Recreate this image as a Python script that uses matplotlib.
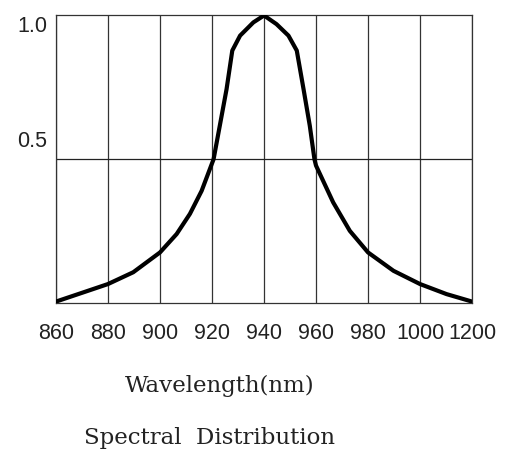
import numpy as np
import matplotlib
matplotlib.use("Agg")
import matplotlib.pyplot as plt

# axis ticks (evenly spaced on the chart, even though 1000 -> 1200 jumps)
wl_ticks = [860, 880, 900, 920, 940, 960, 980, 1000, 1200]
tick_labels = ["860", "880", "900", "920", "940", "960", "980", "1000", "1200"]

# curve: wavelength (nm) and relative intensity
wavelength = [860, 870.5, 880, 889.7, 900, 906.4, 911.5, 916, 920.6, 923, 925.6, 927.8,
              930.8, 935.9, 940, 944.8, 949.4, 952.6, 955.2, 957.6, 959.4, 960, 966.6,
              973, 980, 989.8, 1000, 1102, 1200]
intensity = [0.005, 0.037, 0.066, 0.107, 0.176, 0.24, 0.31, 0.39, 0.5, 0.617, 0.744, 0.878,
             0.93, 0.976, 1.0, 0.97, 0.93, 0.878, 0.744, 0.617, 0.5, 0.478, 0.35,
             0.251, 0.176, 0.112, 0.066, 0.031, 0.005]

# map wavelength onto the evenly spaced tick positions
pos_ticks = np.arange(len(wl_ticks))
x = np.interp(wavelength, wl_ticks, pos_ticks)

fig = plt.figure(figsize=(5.12, 4.52), dpi=100)
ax = fig.add_axes([0.1094, 0.3274, 0.8125, 0.6361])

# grid
for p in pos_ticks:
    ax.axvline(p, color="#333333", lw=0.9, zorder=1)
ax.axhline(0.5, color="#222222", lw=0.9, zorder=1)

ax.plot(x, intensity, color="black", lw=3.0, solid_joinstyle="round",
        solid_capstyle="round", zorder=3)

ax.set_xlim(0, len(wl_ticks) - 1)
ax.set_ylim(0, 1)
for s in ax.spines.values():
    s.set_color("#333333")
    s.set_linewidth(0.9)

ax.set_xticks(pos_ticks)
ax.set_xticklabels(tick_labels, fontsize=15.5, family="Liberation Sans", color="#222222")
ax.tick_params(axis="x", length=0, pad=14)
ax.set_yticks([])

# y labels: 1.0 near the top line, 0.5 sitting above its line
ax.text(-0.17, 1.0, "1.0", ha="right", va="top", fontsize=15.5,
        family="Liberation Sans", color="#222222", clip_on=False)
ax.text(-0.17, 0.53, "0.5", ha="right", va="bottom", fontsize=15.5,
        family="Liberation Sans", color="#222222", clip_on=False)

fig.text(220 / 512, 1 - 386 / 452, "Wavelength(nm)", ha="center", va="center",
         fontsize=16.5, family="DejaVu Serif", color="#222222")
fig.text(209 / 512, 1 - 438 / 452, "Spectral  Distribution", ha="center", va="center",
         fontsize=16.5, family="DejaVu Serif", color="#222222")

fig.savefig("out.png", dpi=100)
